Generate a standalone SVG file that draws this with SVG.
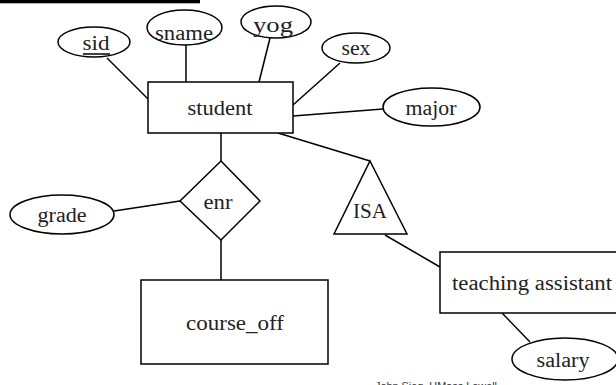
<svg xmlns="http://www.w3.org/2000/svg" width="616" height="385" viewBox="0 0 616 385">
<style>
.s{fill:#fff;stroke:#000;stroke-width:1.5}
.l{stroke:#000;stroke-width:1.5;fill:none}
.t{font-family:"Liberation Serif","Times New Roman",serif;font-size:20px;fill:#222;text-anchor:middle}
.f{font-family:"Liberation Sans",Arial,sans-serif;font-size:10.5px;fill:#333}
</style>
<rect x="0" y="0" width="200" height="3.3" fill="#000"/>
<g id="connectors">
<line class="l" x1="107" y1="58" x2="148" y2="99"/>
<line class="l" x1="186" y1="45" x2="186" y2="82"/>
<line class="l" x1="270" y1="38" x2="259" y2="82"/>
<line class="l" x1="340" y1="63" x2="293" y2="105"/>
<line class="l" x1="293" y1="116" x2="383" y2="109"/>
<line class="l" x1="221" y1="133" x2="221" y2="161"/>
<line class="l" x1="221" y1="240" x2="221" y2="280"/>
<line class="l" x1="114" y1="211" x2="180" y2="201"/>
<line class="l" x1="278" y1="133" x2="370" y2="161"/>
<line class="l" x1="385" y1="235" x2="440" y2="267"/>
<line class="l" x1="502" y1="313" x2="530" y2="342"/>
</g>
<g id="sid"><ellipse class="s" cx="94" cy="42" rx="36" ry="15"/><text class="t" x="96" y="50" textLength="27" lengthAdjust="spacingAndGlyphs">sid</text><line class="l" x1="83" y1="54" x2="110" y2="54" stroke-width="1"/></g>
<g id="sname"><ellipse class="s" cx="184.5" cy="27.5" rx="37.5" ry="17.5"/><text class="t" x="184" y="40" textLength="58" lengthAdjust="spacingAndGlyphs">sname</text></g>
<g id="yog"><ellipse class="s" cx="276" cy="22" rx="35" ry="16"/><text class="t" x="273" y="32" textLength="40" lengthAdjust="spacingAndGlyphs">yog</text></g>
<g id="sex"><ellipse class="s" cx="356" cy="48" rx="34" ry="15"/><text class="t" x="356" y="55" textLength="29" lengthAdjust="spacingAndGlyphs">sex</text></g>
<g id="major"><ellipse class="s" cx="431.5" cy="107" rx="48.5" ry="19"/><text class="t" x="431" y="115" textLength="51" lengthAdjust="spacingAndGlyphs">major</text></g>
<g id="student"><rect class="s" x="148" y="82" width="145" height="51"/><text class="t" x="220" y="115" textLength="65" lengthAdjust="spacingAndGlyphs">student</text></g>
<g id="enr"><polygon class="s" points="221,161 260,201 221,240 180,201"/><text class="t" x="218" y="209" textLength="29" lengthAdjust="spacingAndGlyphs">enr</text></g>
<g id="grade"><ellipse class="s" cx="62" cy="214.5" rx="52" ry="19.5"/><text class="t" x="62" y="222" textLength="49" lengthAdjust="spacingAndGlyphs">grade</text></g>
<g id="course_off"><rect class="s" x="141" y="280" width="187" height="84"/><text class="t" x="235" y="330" textLength="98" lengthAdjust="spacingAndGlyphs">course_off</text></g>
<g id="isa"><polygon class="s" points="370,161 407,234 334,234"/><text class="t" x="370" y="218" font-size="23" textLength="34" lengthAdjust="spacingAndGlyphs">ISA</text></g>
<g id="teaching_assistant"><rect class="s" x="440" y="252" width="185" height="61"/><text class="t" x="532" y="290" textLength="160" lengthAdjust="spacingAndGlyphs">teaching assistant</text></g>
<g id="salary"><ellipse class="s" cx="565" cy="359" rx="53" ry="21"/><text class="t" x="563" y="367" textLength="53" lengthAdjust="spacingAndGlyphs">salary</text></g>
<text class="f" x="375" y="390" textLength="122" lengthAdjust="spacingAndGlyphs">John Sieg, UMass Lowell</text>
</svg>
